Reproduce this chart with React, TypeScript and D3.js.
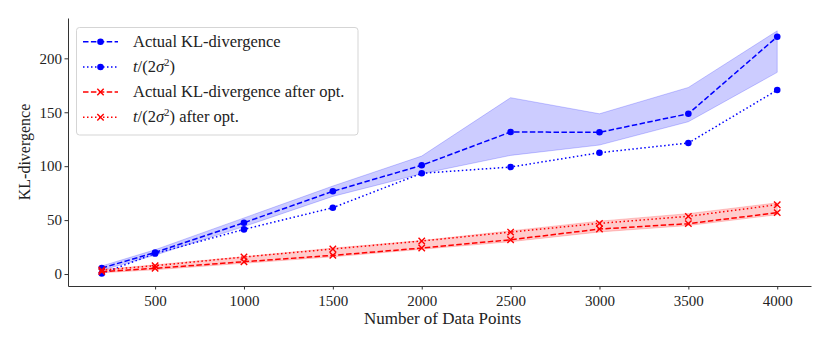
import * as d3 from "d3";
import * as React from "react";

// data
const dataPoints = [200, 500, 1000, 1500, 2000, 2500, 3000, 3500, 4000];
const actualKL = [5.5, 20, 47.6, 76.7, 100.8, 131.7, 131.4, 148.6, 220];
const actualLow = [3.5, 17.5, 44, 72, 93, 110, 119.6, 141.2, 187];
const actualHigh = [7.5, 22.5, 52, 81.6, 109.4, 163.5, 148.6, 173, 225.5];
const bound = [0.5, 19, 41.4, 61.5, 93.4, 99.2, 112.5, 121.5, 170.6];
const actualOpt = [2.2, 5.3, 11.4, 17.3, 24.1, 31.8, 41.7, 46.7, 56.9];
const optLow = [1.2, 4, 10, 16, 23, 30, 39, 45, 55];
const optHigh = [4, 8.5, 16, 24, 31, 40, 49, 56, 66];
const boundOpt = [3.7, 7.7, 15.8, 23.2, 30.6, 38.9, 47, 53.5, 64.3];
const xTicks = [500, 1000, 1500, 2000, 2500, 3000, 3500, 4000];
const yTicks = [0, 50, 100, 150, 200];

const FONT = "Liberation Serif, DejaVu Serif, serif";

function App() {
  const ref = React.useRef<SVGSVGElement>(null);

  React.useEffect(() => {
    const width = 830, height = 346;
    const left = 68, right = 811, top = 18, bottom = 286;
    const svg = d3.select(ref.current);
    svg.selectAll("*").remove();
    svg.attr("width", width).attr("height", height);

    const x = d3.scaleLinear().domain([10, 4190]).range([left, right]);
    const y = d3.scaleLinear().domain([-11.1, 237.4]).range([bottom, top]);

    const band = (lo: number[], hi: number[]) =>
      d3.area<number>()
        .x(d => x(d))
        .y0((d, i) => y(lo[i]))
        .y1((d, i) => y(hi[i]))(dataPoints);

    // shaded bands
    svg.append("path").attr("d", band(actualLow, actualHigh))
      .attr("fill", "rgba(0,0,255,0.2)").attr("stroke", "rgba(0,0,255,0.2)").attr("stroke-width", 1);
    svg.append("path").attr("d", band(optLow, optHigh))
      .attr("fill", "rgba(255,0,0,0.2)").attr("stroke", "rgba(255,0,0,0.2)").attr("stroke-width", 1);

    const line = d3.line<number>().x((d, i) => x(dataPoints[i])).y(d => y(d));

    const series = [
      { vals: actualKL, color: "blue", dash: "5.5,2.4", marker: "o" },
      { vals: bound, color: "blue", dash: "1.5,2.5", marker: "o" },
      { vals: actualOpt, color: "red", dash: "5.5,2.4", marker: "x" },
      { vals: boundOpt, color: "red", dash: "1.5,2.5", marker: "x" },
    ];

    const drawMarker = (g: any, cx: number, cy: number, s: any) => {
      if (s.marker === "o") {
        g.append("circle").attr("cx", cx).attr("cy", cy).attr("r", 3.3).attr("fill", s.color);
      } else {
        const r = 3.2;
        g.append("path")
          .attr("d", `M${cx - r},${cy - r}L${cx + r},${cy + r}M${cx - r},${cy + r}L${cx + r},${cy - r}`)
          .attr("stroke", s.color).attr("stroke-width", 1.4).attr("fill", "none");
      }
    };

    series.forEach(s => {
      const g = svg.append("g");
      g.append("path").attr("d", line(s.vals))
        .attr("fill", "none").attr("stroke", s.color).attr("stroke-width", 1.5)
        .attr("stroke-dasharray", s.dash);
      s.vals.forEach((v, i) => drawMarker(g, x(dataPoints[i]), y(v), s));
    });

    // axes
    const axisColor = "#333";
    const xAxis = svg.append("g").attr("transform", `translate(0,${bottom})`)
      .call(d3.axisBottom(x).tickValues(xTicks).tickSize(3.5).tickSizeOuter(0).tickFormat(d3.format("d")));
    const yAxis = svg.append("g").attr("transform", `translate(${left},0)`)
      .call(d3.axisLeft(y).tickValues(yTicks).tickSize(3.5).tickSizeOuter(0).tickFormat(d3.format("d")));
    [xAxis, yAxis].forEach(a => {
      a.attr("font-family", null).attr("font-size", null);
      a.select(".domain").attr("stroke", axisColor).attr("stroke-width", 1);
      a.selectAll(".tick line").attr("stroke", axisColor);
      a.selectAll(".tick text").attr("fill", "#222").style("font-family", FONT).style("font-size", "15px");
    });
    xAxis.selectAll(".tick text").attr("dy", "0.9em");
    yAxis.selectAll(".tick text").attr("x", -6);

    svg.append("text").attr("x", (left + right) / 2 + 3).attr("y", 324)
      .attr("text-anchor", "middle").attr("fill", "#222")
      .style("font-family", FONT).style("font-size", "17px")
      .text("Number of Data Points");
    svg.append("text").attr("transform", `translate(30,${(top + bottom) / 2}) rotate(-90)`)
      .attr("text-anchor", "middle").attr("fill", "#222")
      .style("font-family", FONT).style("font-size", "16px")
      .text("KL-divergence");

    // legend
    const lg = svg.append("g");
    lg.append("rect").attr("x", 76.5).attr("y", 27.5).attr("width", 281.5).attr("height", 107.5)
      .attr("rx", 3).attr("fill", "rgba(255,255,255,0.8)").attr("stroke", "#d5d5d5").attr("stroke-width", 1);
    const rows = [41.7, 67, 92, 117.3];
    series.forEach((s, i) => {
      const ry = rows[i];
      lg.append("line").attr("x1", 83).attr("x2", 118).attr("y1", ry).attr("y2", ry)
        .attr("stroke", s.color).attr("stroke-width", 1.5).attr("stroke-dasharray", s.dash);
      drawMarker(lg, 100.5, ry, s);
      const t = lg.append("text").attr("x", 133).attr("y", ry + 5).attr("fill", "#222")
        .style("font-family", FONT).style("font-size", "16.5px");
      if (i === 0) t.text("Actual KL-divergence");
      else if (i === 2) t.text("Actual KL-divergence after opt.");
      else {
        t.append("tspan").attr("font-style", "italic").text("t");
        t.append("tspan").text("/(2");
        t.append("tspan").attr("font-style", "italic").text("σ");
        t.append("tspan").style("font-size", "11px").attr("dy", -6).text("2");
        t.append("tspan").attr("dy", 6).text(i === 1 ? ")" : ") after opt.");
      }
    });
  }, []);

  return (
    <div>
      <svg ref={ref} style={{ position: "absolute", left: 0, top: 0 }}></svg>
    </div>
  );
}

export default App;
